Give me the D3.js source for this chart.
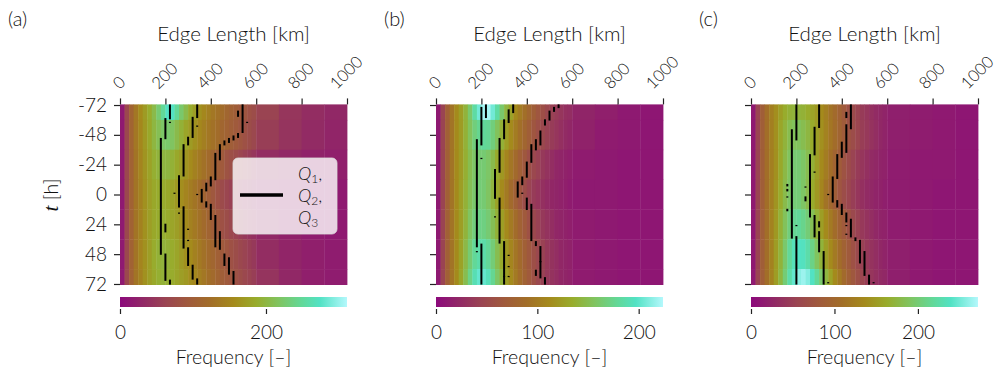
<!DOCTYPE html>
<html>
<head>
<meta charset="utf-8">
<script src="https://cdn.jsdelivr.net/npm/d3@7"></script>
<style>
  body { margin: 0; background: #fff; }
  text { font-family: Lato, "Open Sans", sans-serif; font-weight: 300; fill: #111; }
</style>
</head>
<body>
<svg id="chart" width="997" height="371"></svg>
<script>
// ---- data ----
// edge length bins [km] and time blocks [h]
const edgeBins = [0,20,40,60,80,100,120,140,160,180,200,220,240,260,280,300,320,340,360,380,
                  400,420,440,460,480,500,520,540,560,580,600,700,800,900,1000];
const timeAnchors = [-72, -48, -24, 0, 24, 48, 72];
const rowEdges = [-72.5, -60, -36, -12, 12, 36, 60, 72.5];

const xTicks = [0, 200, 400, 600, 800, 1000];
const yTicks = [-72, -48, -24, 0, 24, 48, 72];

// frequency per time block (rows = timeAnchors, cols = edgeBins)
const freqA = [
  [16,68,109,134,156,171,187,205,227,249,274,274,249,224,205,187,174,162,152,143,134,128,121,112,106,100,93,87,81,75,62,47,37,31],
  [16,68,109,134,152,168,183,199,211,221,224,218,205,193,180,171,162,152,143,134,128,121,112,106,100,93,87,81,75,68,56,44,34,28],
  [16,68,106,131,149,165,177,190,196,199,199,193,183,174,165,156,146,137,128,118,109,100,93,84,78,72,65,59,53,47,37,31,25,22],
  [16,68,106,131,146,162,174,183,187,187,183,177,168,159,149,140,131,121,109,100,90,81,72,65,59,53,47,40,37,34,28,22,19,16],
  [16,68,106,131,146,162,174,183,187,190,187,180,174,165,156,146,137,128,118,109,100,90,81,75,68,62,56,50,44,40,31,25,19,16],
  [16,68,106,131,149,162,174,187,193,196,193,187,180,171,162,156,146,137,128,118,112,103,93,87,81,75,68,62,56,50,37,28,22,19],
  [16,68,106,131,146,162,174,183,190,193,190,187,180,174,168,159,152,143,134,124,118,109,100,93,87,81,75,68,62,56,44,31,22,19]
];
const freqB = [
  [11,45,74,94,112,125,141,161,184,206,220,220,206,184,161,143,128,112,101,90,81,72,63,56,49,43,38,34,29,27,20,16,11,9],
  [11,45,74,94,112,123,139,155,168,176,180,178,168,155,139,125,112,101,90,81,72,63,56,49,43,38,34,29,25,22,18,13,11,9],
  [11,45,74,94,112,123,137,150,159,164,164,159,148,134,121,108,96,85,74,65,56,49,43,36,31,27,22,20,18,16,13,11,9,9],
  [11,45,74,94,112,125,139,152,161,166,164,157,143,128,112,99,85,74,63,54,45,38,34,29,25,22,20,18,16,13,11,11,9,9],
  [11,45,74,94,112,125,141,157,168,172,170,164,152,139,125,112,99,87,76,67,58,49,43,36,31,27,22,20,18,16,13,11,9,9],
  [11,45,74,94,112,128,146,164,179,186,186,179,166,150,134,121,108,96,85,74,65,56,49,43,36,31,27,22,20,18,13,11,9,9],
  [11,45,74,94,112,130,150,172,190,202,202,193,177,159,141,125,112,99,87,76,67,58,49,43,36,31,27,22,20,18,13,11,9,9]
];
const freqC = [
  [14,54,87,109,125,139,152,163,169,171,171,169,163,155,147,136,125,114,103,92,82,71,63,54,46,41,35,30,27,24,19,16,14,11],
  [14,54,87,109,125,141,158,171,182,188,188,182,174,163,152,141,128,117,106,95,84,73,65,57,49,44,38,33,27,24,19,16,14,11],
  [14,54,87,109,125,141,160,177,190,199,199,193,182,169,152,136,122,109,95,84,73,63,54,46,41,35,30,27,24,22,16,14,14,11],
  [14,54,87,109,125,144,163,180,193,201,201,193,180,163,147,131,114,101,87,76,65,57,49,41,35,30,27,24,22,19,16,14,11,11],
  [14,54,87,109,128,147,169,188,204,215,218,212,201,185,169,152,136,120,106,92,82,71,60,52,44,38,33,27,24,22,16,14,11,11],
  [14,54,87,109,128,150,171,196,218,234,239,237,226,209,190,171,152,136,120,106,92,82,71,60,52,44,38,33,27,24,19,14,11,11],
  [14,54,87,109,128,150,174,201,226,245,258,264,256,239,218,196,174,155,136,120,103,90,79,68,57,49,41,35,30,27,19,14,11,11]
];

// quartile runs: [edge length km, first hour, last hour]
const q1A = [[220,-72,-61],[220,-58,-58],[200,-61,-45],[180,-45,48],[200,24,30],[200,48,69],[220,69,72]];
const q2A = [[340,-72,-62],[340,-55,-55],[320,-62,-46],[300,-46,-40],[280,-40,-15],[260,-15,10],[240,-1,-1],
             [260,15,15],[280,10,43],[300,28,28],[300,37,37],[300,43,57],[320,57,68],[340,68,72]];
const q3A = [[540,-72,-50],[520,-67,-63],[560,-58,-58],[520,-49,-46],[500,-47,-44],[480,-45,-42],[460,-43,-40],
             [440,-40,-28],[420,-33,-12],[400,-14,-7],[380,-9,-3],[360,-4,6],[340,0,0],[380,6,10],[400,8,20],
             [420,17,42],[440,30,44],[460,48,57],[480,51,64],[500,62,72]];

const q1B = [[220,-72,-62],[200,-70,-40],[200,-29,-29],[180,-44,42],[180,46,46],[200,40,72]];
const q2B = [[340,-72,-66],[320,-68,-58],[300,-60,-45],[280,-45,-18],[260,-20,3],[280,3,39],[260,18,18],
             [300,38,66],[320,49,49],[320,58,58],[320,66,66],[300,66,72]];
const q3B = [[540,-72,-70],[520,-70,-67],[500,-67,-60],[480,-60,-56],[460,-51,-40],[440,-44,-36],[420,-40,-26],
             [400,-26,-14],[380,-14,-8],[360,-10,2],[380,-1,-1],[400,3,12],[420,8,37],[440,38,41],
             [460,42,54],[440,61,65],[460,54,67],[480,67,72]];

const q1C = [[200,-72,-44],[180,-52,35],[160,-8,-7],[160,-4,-3],[160,2,2],[160,12,13],[200,25,25],[200,34,72]];
const q2C = [[300,-72,-54],[280,-54,-32],[260,-32,18],[240,-6,-6],[240,2,5],[280,-18,-18],[280,17,34],
             [300,22,26],[300,30,46],[320,46,72],[340,71,71]];
const q3C = [[440,-72,-53],[420,-66,-62],[420,-56,-34],[400,-42,-30],[380,-32,-13],[360,-14,6],[340,0,0],
             [380,5,10],[400,8,16],[420,15,22],[440,20,34],[420,25,25],[420,32,32],[460,35,37],
             [480,37,55],[500,46,65],[520,65,72],[540,71,71]];

const cbarMax = [311, 224, 272];
const cbarTicks = [[0, 200], [0, 100, 200], [0, 100, 200]];

// ---- colour map ----
const colorStops = [0, 0.1, 0.2, 0.3, 0.4, 0.5, 0.6, 0.7, 0.8, 0.88, 1];
const colorHex = ['#8c0a7c','#912866','#9a4452','#a05a3c','#a26e28','#a48a1c','#98ac2c','#80c460','#62d898','#52e2c4','#b4f8fc'];
const cmap = d3.scaleLinear().domain(colorStops).range(colorHex).interpolate(d3.interpolateRgb).clamp(true);

const svg = d3.select('#chart');
const defs = svg.append('defs');
const grad = defs.append('linearGradient').attr('id', 'cbar').attr('x1', 0).attr('x2', 1).attr('y1', 0).attr('y2', 0);
colorStops.forEach((s, i) => grad.append('stop').attr('offset', s).attr('stop-color', colorHex[i]));

const plotW = 227;
const ys = d3.scaleLinear().domain([-72.5, 72.5]).range([104.4, 284.6]);

const panels = [
  { tag: '(a)', tagX: 8,   x0: 120, freq: freqA, quart: [q1A, q2A, q3A], vmax: cbarMax[0], cticks: cbarTicks[0], yLabels: true,  legend: true },
  { tag: '(b)', tagX: 384, x0: 436, freq: freqB, quart: [q1B, q2B, q3B], vmax: cbarMax[1], cticks: cbarTicks[1], yLabels: false, legend: false },
  { tag: '(c)', tagX: 699, x0: 751, freq: freqC, quart: [q1C, q2C, q3C], vmax: cbarMax[2], cticks: cbarTicks[2], yLabels: false, legend: false }
];

panels.forEach(p => {
  const xs = d3.scaleLinear().domain([0, 1000]).range([p.x0, p.x0 + plotW]);
  const g = svg.append('g');

  // heatmap cells
  p.freq.forEach((row, i) => {
    g.append('g').selectAll('rect').data(row).join('rect')
      .attr('x', (d, j) => xs(edgeBins[j]))
      .attr('width', (d, j) => xs(edgeBins[j + 1]) - xs(edgeBins[j]) + 0.4)
      .attr('y', ys(rowEdges[i]))
      .attr('height', ys(rowEdges[i + 1]) - ys(rowEdges[i]) + 0.4)
      .attr('fill', d => cmap(d / p.vmax));
  });

  // quartile runs
  p.quart.forEach(q => {
    g.append('g').selectAll('line').data(q).join('line')
      .attr('x1', d => xs(d[0])).attr('x2', d => xs(d[0]))
      .attr('y1', d => ys(d[1] - 0.5)).attr('y2', d => ys(d[2] + 0.5))
      .attr('stroke', '#000').attr('stroke-width', 2);
  });

  // top axis
  const xAxis = g.append('g').attr('transform', `translate(0,${ys(-72.5)})`)
    .call(d3.axisTop(xs).tickValues(xTicks).tickSize(6).tickFormat(''));
  xAxis.select('.domain').remove();
  xAxis.selectAll('line').attr('stroke', '#222').attr('stroke-width', 1.2);

  xTicks.forEach(v => {
    const t = g.append('text').attr('font-size', 16.5).attr('text-anchor', 'middle')
      .attr('dominant-baseline', 'central').text(v);
    const w = t.node().getComputedTextLength();
    const diag = (w + 12) * Math.SQRT1_2;
    const cy = 90 - diag / 2;
    t.attr('transform', `translate(${xs(v) - 1},${cy}) rotate(-45)`);
  });

  g.append('text').attr('x', p.x0 + plotW / 2).attr('y', 41).attr('text-anchor', 'middle')
    .attr('font-size', 20.5).text('Edge Length [km]');

  // left axis
  const yAxis = g.append('g').attr('transform', `translate(${p.x0},0)`)
    .call(d3.axisLeft(ys).tickValues(yTicks).tickSize(6).tickFormat(p.yLabels ? (d => String(d).replace('\u2212', '-')) : ''));
  yAxis.select('.domain').remove();
  yAxis.selectAll('line').attr('stroke', '#222').attr('stroke-width', 1.2);
  yAxis.selectAll('text').attr('font-size', 19).attr('font-family', 'Lato, sans-serif')
    .attr('font-weight', 300).attr('fill', '#111').attr('x', -13);

  if (p.yLabels) {
    const yl = g.append('text').attr('transform', `translate(58,195) rotate(-90)`)
      .attr('text-anchor', 'middle').attr('font-size', 19.5);
    yl.append('tspan').attr('font-family', '"Liberation Serif", serif').attr('font-style', 'italic')
      .attr('font-size', 21).text('t');
    yl.append('tspan').text(' [h]');
  }

  // panel tag
  g.append('text').attr('x', p.tagX).attr('y', 26).attr('font-size', 20).text(p.tag);

  // colour bar
  g.append('rect').attr('x', p.x0).attr('y', 297).attr('width', plotW).attr('height', 10)
    .attr('fill', 'url(#cbar)');
  const cs = d3.scaleLinear().domain([0, p.vmax]).range([p.x0, p.x0 + plotW]);
  const cAxis = g.append('g').attr('transform', 'translate(0,309)')
    .call(d3.axisBottom(cs).tickValues(p.cticks).tickSize(5).tickPadding(12));
  cAxis.select('.domain').remove();
  cAxis.selectAll('line').attr('stroke', '#222').attr('stroke-width', 1.2);
  cAxis.selectAll('text').attr('font-size', 19).attr('font-family', 'Lato, sans-serif')
    .attr('font-weight', 300).attr('fill', '#111');
  g.append('text').attr('x', p.x0 + plotW / 2).attr('y', 364).attr('text-anchor', 'middle')
    .attr('font-size', 19.5).text('Frequency [\u2013]');

  // legend
  if (p.legend) {
    const lg = g.append('g');
    lg.append('rect').attr('x', 233).attr('y', 158).attr('width', 104).attr('height', 76).attr('rx', 5)
      .attr('fill', 'rgba(255,255,255,0.8)').attr('stroke', 'rgba(220,220,220,0.8)');
    lg.append('line').attr('x1', 240).attr('x2', 283).attr('y1', 195).attr('y2', 195)
      .attr('stroke', '#000').attr('stroke-width', 3.5);
    ['1,', '2,', '3'].forEach((s, i) => {
      const tx = lg.append('text').attr('x', 298).attr('y', 180 + i * 22).attr('font-size', 18)
        .attr('font-family', '"Liberation Serif", serif').attr('font-weight', 400);
      tx.append('tspan').attr('font-style', 'italic').text('Q');
      tx.append('tspan').attr('font-size', 12).attr('dy', 3).text(s[0]);
      if (s.length > 1) tx.append('tspan').attr('dy', -3).text(',');
    });
  }
});
</script>
</body>
</html>
